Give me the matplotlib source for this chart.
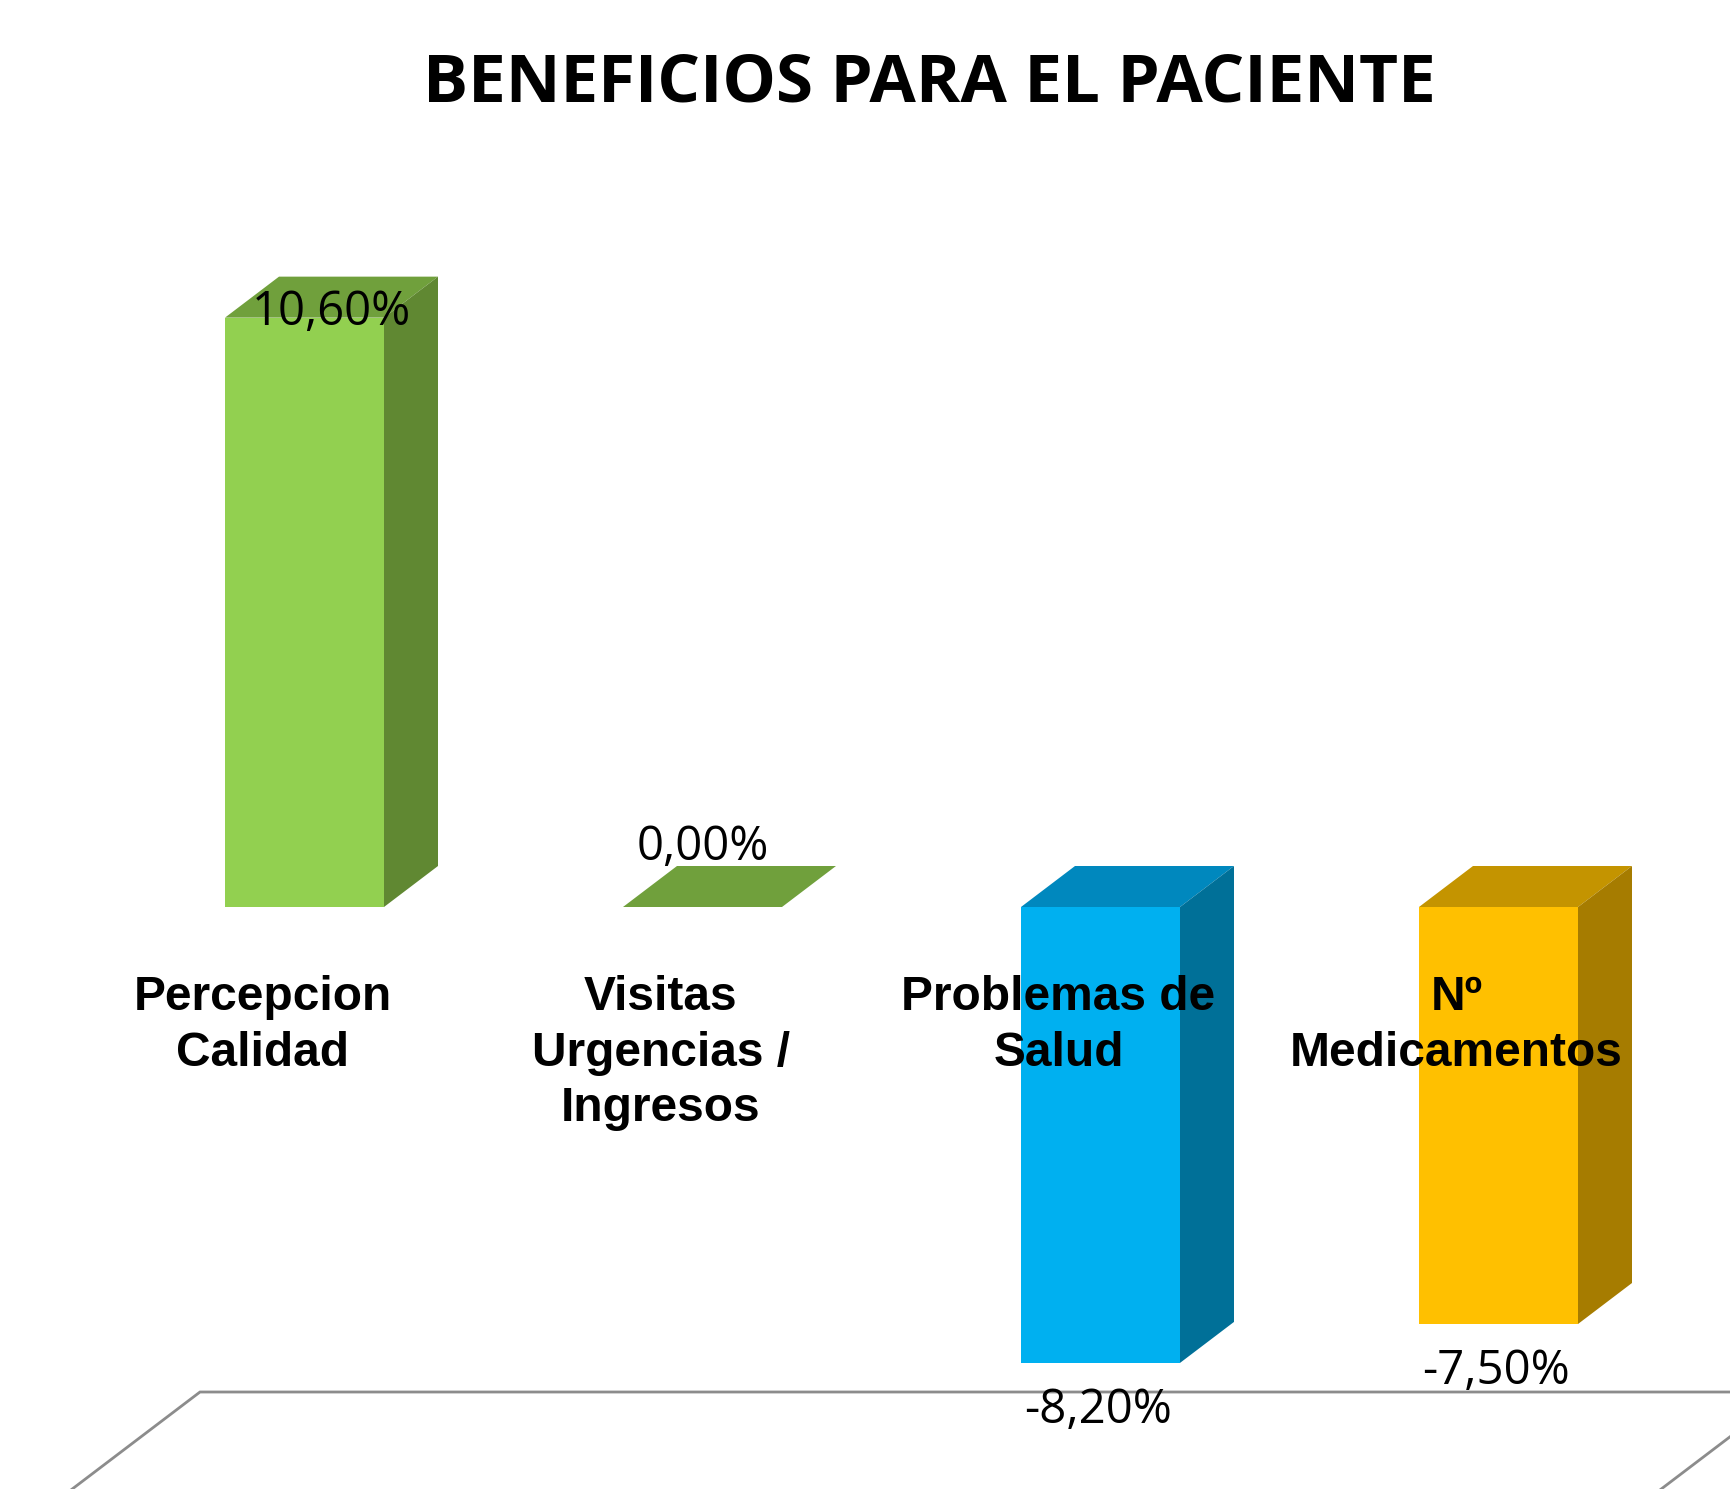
import matplotlib.pyplot as plt
from matplotlib.patches import Polygon

# datos del grafico
categorias = ["Percepcion\nCalidad", "Visitas\nUrgencias /\nIngresos",
              "Problemas de\nSalud", "Nº\nMedicamentos"]
valores = [10.6, 0.0, -8.2, -7.5]
etiquetas = ["10,60%", "0,00%", "-8,20%", "-7,50%"]

color_frente = ["#92D050", "#92D050", "#00B0F0", "#FFC000"]
color_techo = ["#70A03C", "#70A03C", "#0088BE", "#C49400"]
color_lado = ["#608832", "#608832", "#007098", "#A67C00"]

W, H = 1730, 1489
px_x = 398.0      # pixeles por categoria
px_y = 55.6       # pixeles por punto porcentual
x0, y0 = 304.5, 907.0   # centro de la primera barra / linea cero

fig = plt.figure(figsize=(W / 100, H / 100), dpi=100)
ax = fig.add_axes([0, 0, 1, 1])
ax.set_xlim(-x0 / px_x, (W - x0) / px_x)
ax.set_ylim(-(H - y0) / px_y, y0 / px_y)
ax.axis("off")

ancho = 159 / px_x
dx = 54 / px_x
dy = 41 / px_y

# suelo 3D
fy = -(1392 - y0) / px_y
fl = (200 - x0) / px_x
fr = (1789 - x0) / px_x
ax.plot([fl - 4 * dx, fl, fr, fr - 4 * dx], [fy - 4 * dy, fy, fy, fy - 4 * dy],
        color="#8C8C8C", lw=2, solid_joinstyle="miter", zorder=1)

# barras 3D
xs = list(range(len(valores)))
ax.bar(xs, valores, width=ancho, color=color_frente, zorder=3)
for i, v in enumerate(valores):
    izq, der = i - ancho / 2, i + ancho / 2
    arriba, abajo = max(v, 0), min(v, 0)
    techo = [(izq, arriba), (der, arriba), (der + dx, arriba + dy), (izq + dx, arriba + dy)]
    ax.add_patch(Polygon(techo, closed=True, color=color_techo[i], lw=0, zorder=3))
    if v != 0:
        lado = [(der, abajo), (der + dx, abajo + dy), (der + dx, arriba + dy), (der, arriba)]
        ax.add_patch(Polygon(lado, closed=True, color=color_lado[i], lw=0, zorder=3))

# etiquetas de datos
off_x = [27, 0, -2, -2]
off_y = [0.1, 1.08, -0.86, -0.85]
for i, v in enumerate(valores):
    ax.text(i + off_x[i] / px_x, v + off_y[i], etiquetas[i], ha="center", va="center",
            fontsize=34, family="Open Sans", color="black", zorder=5)

# categorias
for i, c in enumerate(categorias):
    ax.text(i - 42 / px_x, -(975 - y0) / px_y, c, ha="center", va="top",
            fontsize=34.5, fontweight="bold", family="Liberation Sans",
            linespacing=1.3, color="black", zorder=6)

fig.text(929 / W, 1 - 84 / H, "BENEFICIOS PARA EL PACIENTE", ha="center", va="center",
         fontsize=48.5, fontweight="bold", family="Open Sans", color="black")

fig.savefig("out.png", dpi=100, facecolor="white")
